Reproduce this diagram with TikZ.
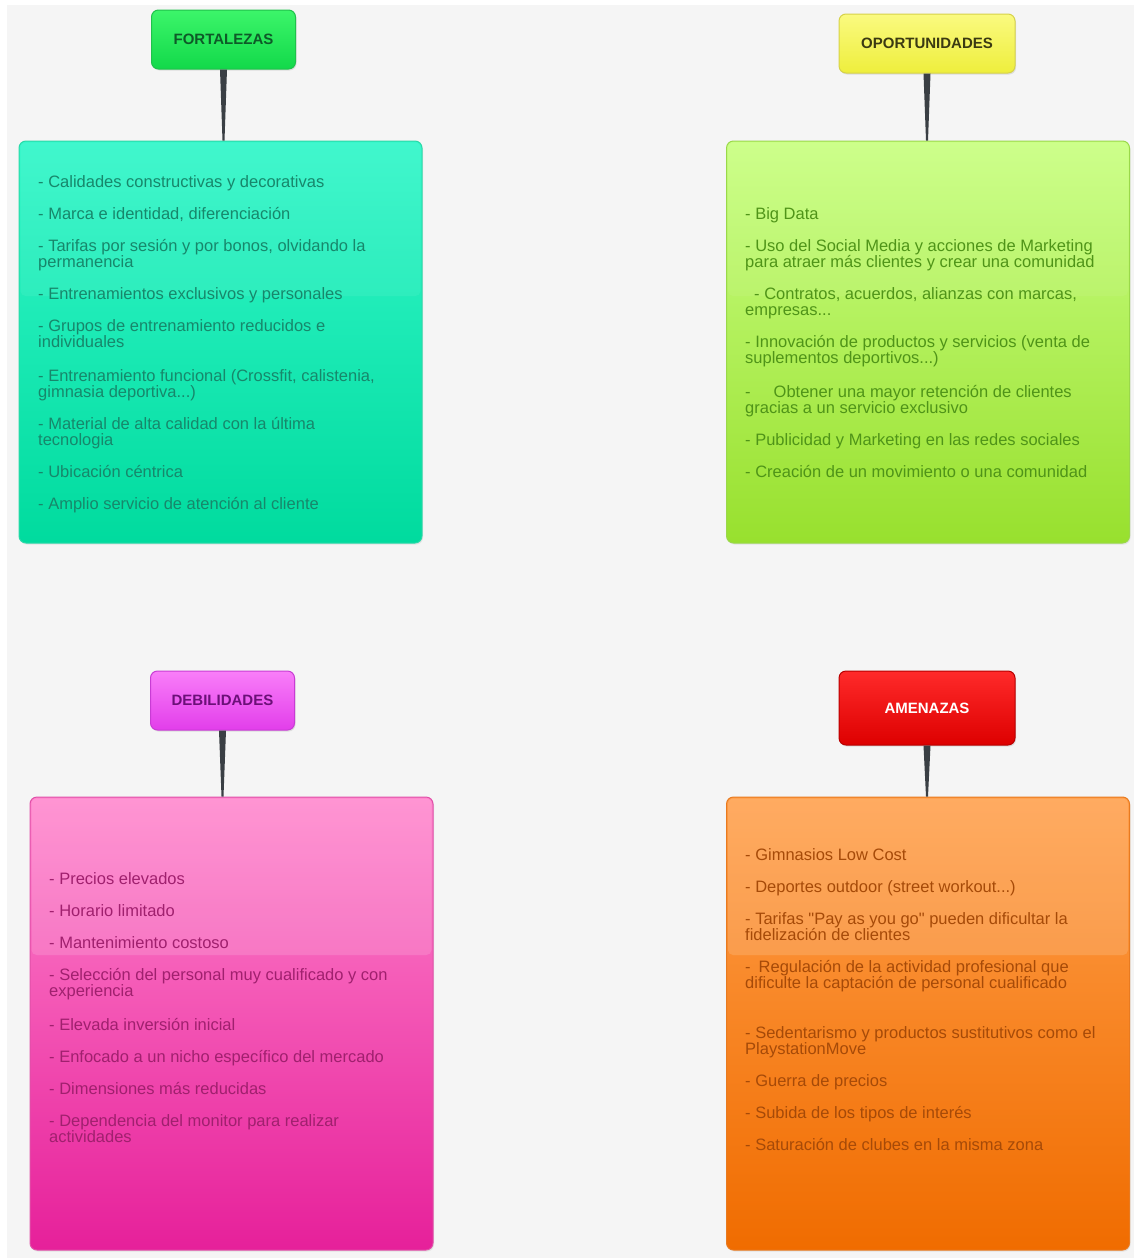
\documentclass[tikz,border=0pt]{standalone}
\usepackage{fontspec}
\setmainfont{Liberation Sans}
\newfontfamily\plainq{Liberation Sans}
\usetikzlibrary{
  calc,
  shadows
}
\definecolor{pagebg}{HTML}{F5F5F5}
\definecolor{stemgray}{HTML}{3A3F44}
\definecolor{fortHtop}{HTML}{3CF56A}
\definecolor{fortHbot}{HTML}{12D94A}
\definecolor{fortHline}{HTML}{1FC24B}
\definecolor{fortHtext}{HTML}{0E5A28}
\definecolor{fortTop}{HTML}{35F7CA}
\definecolor{fortBot}{HTML}{00DB9E}
\definecolor{fortLine}{HTML}{2AD9A8}
\definecolor{fortText}{HTML}{17876B}
\definecolor{oporHtop}{HTML}{FAFA80}
\definecolor{oporHbot}{HTML}{EEEE3C}
\definecolor{oporHline}{HTML}{D6D24A}
\definecolor{oporHtext}{HTML}{3B3A12}
\definecolor{oporTop}{HTML}{CAFF84}
\definecolor{oporBot}{HTML}{98E02E}
\definecolor{oporLine}{HTML}{9AD84A}
\definecolor{oporText}{HTML}{4F9418}
\definecolor{debiHtop}{HTML}{F97EF9}
\definecolor{debiHbot}{HTML}{E23EEA}
\definecolor{debiHline}{HTML}{C83CD4}
\definecolor{debiHtext}{HTML}{6B1078}
\definecolor{debiTop}{HTML}{FF84CC}
\definecolor{debiBot}{HTML}{E6209A}
\definecolor{debiLine}{HTML}{E050A8}
\definecolor{debiText}{HTML}{A0206E}
\definecolor{amenHtop}{HTML}{FF2A2A}
\definecolor{amenHbot}{HTML}{DD0000}
\definecolor{amenHline}{HTML}{B80000}
\definecolor{amenTop}{HTML}{FF9E48}
\definecolor{amenBot}{HTML}{F06C00}
\definecolor{amenLine}{HTML}{E87A20}
\definecolor{amenText}{HTML}{A64A08}

\begin{document}
\begin{tikzpicture}[
  x=1pt, y=-1pt,
  headbox/.style={
    rectangle, rounded corners=7pt, line width=1pt,
    minimum width=144pt, minimum height=59pt,
    font=\fontsize{15}{16}\selectfont\bfseries,
    drop shadow={opacity=.2, shadow xshift=1pt, shadow yshift=-1.5pt}
  },
  listbox/.style={
    rectangle, rounded corners=7pt, line width=1pt,
    minimum width=403pt, inner sep=0pt,
    drop shadow={opacity=.15, shadow xshift=1pt, shadow yshift=-1.5pt}
  },
  listtext/.style={
    anchor=north west, align=left, inner sep=0pt,
    font=\fontsize{16.5}{16}\selectfont
  },
  stem/.style={fill=stemgray},
  gloss/.style={fill=white, opacity=.14, rounded corners=5pt}
]

\useasboundingbox (0,0) rectangle (1134,1258);
\fill[white] (0,0) rectangle (1134,1258);
\fill[pagebg] (7,5) rectangle (1134,1258);

% FORTALEZAS
\node[headbox, top color=fortHtop, bottom color=fortHbot, draw=fortHline,
  text=fortHtext] (fortH) at (223.5,39.5) {FORTALEZAS};
\node[listbox, minimum height=402pt, top color=fortTop, bottom color=fortBot,
  draw=fortLine] (fort) at (220.5,342) {};
\fill[gloss, opacity=.06] ([xshift=2pt,yshift=-2pt]fort.north west) rectangle ([xshift=-2pt]fort.east |- 0,296);
\fill[stem] ([xshift=-3.5pt]fortH.south) -- ([xshift=3.5pt]fortH.south)
  -- ([xshift=1pt]fortH.south |- fort.north) -- ([xshift=-1pt]fortH.south |- fort.north) -- cycle;
\node[listtext, text=fortText] (fortList) at (38,175.5) {%
  - Calidades constructivas y decorativas\\[16pt]
  - Marca e identidad, diferenciación\\[16pt]
  - Tarifas por sesión y por bonos, olvidando la\\
  permanencia\\[16pt]
  - Entrenamientos exclusivos y personales\\[16pt]
  - Grupos de entrenamiento reducidos e\\
  individuales\\[18pt]
  - Entrenamiento funcional (Crossfit, calistenia,\\
  gimnasia deportiva...)\\[16pt]
  - Material de alta calidad con la última\\
  tecnologia\\[16pt]
  - Ubicación céntrica\\[16pt]
  - Amplio servicio de atención al cliente};

% OPORTUNIDADES
\node[headbox, top color=oporHtop, bottom color=oporHbot, draw=oporHline,
  text=oporHtext, minimum width=176pt] (oporH) at (927,43.5) {OPORTUNIDADES};
\node[listbox, minimum height=402pt, top color=oporTop, bottom color=oporBot,
  draw=oporLine] (opor) at (928,342) {};
\fill[gloss, opacity=.06] ([xshift=2pt,yshift=-2pt]opor.north west) rectangle ([xshift=-2pt]opor.east |- 0,296);
\fill[stem] ([xshift=-3.5pt]oporH.south) -- ([xshift=3.5pt]oporH.south)
  -- ([xshift=1pt]oporH.south |- opor.north) -- ([xshift=-1pt]oporH.south |- opor.north) -- cycle;
\node[listtext, text=oporText] (oporList) at (745,207.5) {%
  - Big Data\\[16pt]
  - Uso del Social Media y acciones de Marketing\\
  para atraer más clientes y crear una comunidad\\[16pt]
  \hspace*{9pt}- Contratos, acuerdos, alianzas con marcas,\\
  empresas...\\[16pt]
  - Innovación de productos y servicios (venta de\\
  suplementos deportivos...)\\[18pt]
  -\hspace*{23pt}Obtener una mayor retención de clientes\\
  gracias a un servicio exclusivo\\[16pt]
  - Publicidad y Marketing en las redes sociales\\[16pt]
  - Creación de un movimiento o una comunidad};

% DEBILIDADES
\node[headbox, top color=debiHtop, bottom color=debiHbot, draw=debiHline,
  text=debiHtext] (debiH) at (222.5,700.5) {DEBILIDADES};
\node[listbox, minimum height=453pt, top color=debiTop, bottom color=debiBot,
  draw=debiLine] (debi) at (231.5,1023.5) {};
\fill[gloss] ([xshift=2pt,yshift=-2pt]debi.north west) rectangle ([xshift=-2pt]debi.east |- 0,955);
\fill[stem] ([xshift=-3.5pt]debiH.south) -- ([xshift=3.5pt]debiH.south)
  -- ([xshift=1pt]debiH.south |- debi.north) -- ([xshift=-1pt]debiH.south |- debi.north) -- cycle;
\node[listtext, text=debiText] (debiList) at (49,872.5) {%
  - Precios elevados\\[16pt]
  - Horario limitado\\[16pt]
  - Mantenimiento costoso\\[16pt]
  - Selección del personal muy cualificado y con\\
  experiencia\\[18pt]
  - Elevada inversión inicial\\[16pt]
  - Enfocado a un nicho específico del mercado\\[16pt]
  - Dimensiones más reducidas\\[16pt]
  - Dependencia del monitor para realizar\\
  actividades};

% AMENAZAS
\node[headbox, top color=amenHtop, bottom color=amenHbot, draw=amenHline,
  text=white, minimum width=176pt, minimum height=74pt] (amenH) at (927,708) {AMENAZAS};
\node[listbox, minimum height=453pt, top color=amenTop, bottom color=amenBot,
  draw=amenLine] (amen) at (928,1023.5) {};
\fill[gloss] ([xshift=2pt,yshift=-2pt]amen.north west) rectangle ([xshift=-2pt]amen.east |- 0,955);
\fill[stem] ([xshift=-3.5pt]amenH.south) -- ([xshift=3.5pt]amenH.south)
  -- ([xshift=1pt]amenH.south |- amen.north) -- ([xshift=-1pt]amenH.south |- amen.north) -- cycle;
\node[listtext, text=amenText] (amenList) at (745,848.5) {%
  - Gimnasios Low Cost\\[16pt]
  - Deportes outdoor (street workout...)\\[16pt]
  - Tarifas {\plainq"}Pay as you go{\plainq"} pueden dificultar la\\
  fidelización de clientes\\[16pt]
  -\hspace*{8pt}Regulación de la actividad profesional que\\
  dificulte la captación de personal cualificado\\[34pt]
  - Sedentarismo y productos sustitutivos como el\\
  PlaystationMove\\[16pt]
  - Guerra de precios\\[16pt]
  - Subida de los tipos de interés\\[16pt]
  - Saturación de clubes en la misma zona};

\end{tikzpicture}
\end{document}
